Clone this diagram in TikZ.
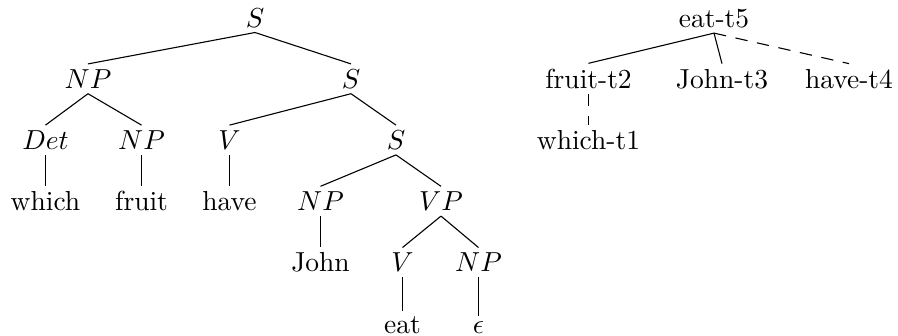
\documentclass[tikz,border=0pt]{standalone}
\begin{document}
\begin{tikzpicture}[x=0.36364pt,y=-0.36364pt,
  tn/.style={anchor=base,inner sep=2pt,outer sep=0pt},
  br/.style={line width=0.4pt},
  dbr/.style={line width=0.4pt,dash pattern=on 4.5pt off 3.5pt}]
\useasboundingbox (0,0) rectangle (898,335);
% left tree
\node[tn] (s0) at (255,27) {$S$};
\node[tn] (np1) at (88,88.2) {$NP$};
\node[tn] (s1) at (351,88.2) {$S$};
\node[tn] (det) at (45.5,149.4) {$Det$};
\node[tn] (np2) at (141.5,149.4) {$NP$};
\node[tn] (v1) at (229.5,149.4) {$V$};
\node[tn] (s2) at (396,149.4) {$S$};
\node[tn] (which) at (45.5,210.6) {which};
\node[tn] (fruit) at (141.5,210.6) {fruit};
\node[tn] (have) at (229.5,210.6) {have};
\node[tn] (np3) at (320.5,210.6) {$NP$};
\node[tn] (vp) at (441,210.6) {$VP$};
\node[tn] (john) at (320.5,271.8) {John};
\node[tn] (v2) at (402.5,271.8) {$V$};
\node[tn] (np4) at (478.5,271.8) {$NP$};
\node[tn] (eat) at (402.5,333) {eat};
\node[tn] (eps) at (478.5,333) {$\epsilon$};
\draw[br] (s0.south) -- (np1.north);
\draw[br] (s0.south) -- (s1.north);
\draw[br] (np1.south) -- (det.north);
\draw[br] (np1.south) -- (np2.north);
\draw[br] (s1.south) -- (v1.north);
\draw[br] (s1.south) -- (s2.north);
\draw[br] (det.south) -- (which.north);
\draw[br] (np2.south) -- (fruit.north);
\draw[br] (v1.south) -- (have.north);
\draw[br] (s2.south) -- (np3.north);
\draw[br] (s2.south) -- (vp.north);
\draw[br] (np3.south) -- (john.north);
\draw[br] (vp.south) -- (v2.north);
\draw[br] (vp.south) -- (np4.north);
\draw[br] (v2.south) -- (eat.north);
\draw[br] (np4.south) -- (eps.north);
% right tree
\node[tn] (e5) at (714,27) {eat-t5};
\node[tn] (f2) at (588.5,88.2) {fruit-t2};
\node[tn] (j3) at (722,88.2) {John-t3};
\node[tn] (h4) at (849,88.2) {have-t4};
\node[tn] (w1) at (588.5,149.4) {which-t1};
\draw[br] (e5.south) -- (f2.north);
\draw[br] (e5.south) -- (j3.north);
\draw[dbr] (e5.south) -- (h4.north);
\draw[dbr] (f2.south) -- (w1.north);
\end{tikzpicture}
\end{document}
